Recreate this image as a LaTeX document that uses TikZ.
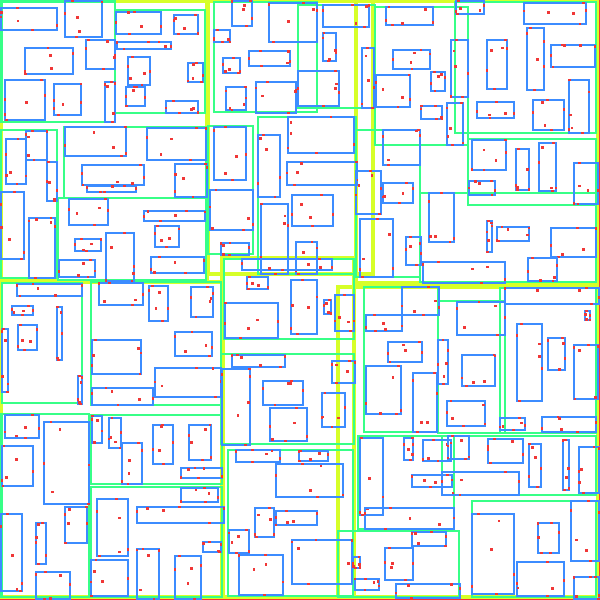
\documentclass[tikz,border=0pt]{standalone}
\usepackage{tikz}
\usetikzlibrary{calc}
\usepackage{xcolor}
\definecolor{rtreered}{RGB}{245,50,50}
\definecolor{rtreeyellow}{RGB}{215,255,40}
\definecolor{rtreegreen}{RGB}{55,255,135}
\definecolor{rtreeblue}{RGB}{60,140,255}
\definecolor{rtreedot}{RGB}{240,55,55}

\begin{document}
\begin{tikzpicture}[x=0.01cm,y=-0.01cm,
  rootbox/.style={draw=rtreered,line width=0.6pt},
  levelbox/.style={draw=rtreeyellow,line width=1pt},
  nodebox/.style={draw=rtreegreen,line width=0.75pt},
  leafbox/.style={draw=rtreeblue,line width=0.34pt},
  pointdot/.style={fill=rtreedot}]
\fill[white] (0,0) rectangle (600,600);
\useasboundingbox (0,0) rectangle (600,600);
\pgfmathsetseed{4242}

% root
\draw[rootbox] (0.5,0.5) rectangle (599,599);

% second level (yellow)
\foreach \xa/\ya/\xb/\yb in {1.5/1.5/207/281, 208/1.5/373/274, 356/1.5/597.5/283,
  1.5/282/223/597, 222/258/354/597, 338/287/597.5/597} {
  \draw[levelbox] (\xa,\ya) rectangle (\xb,\yb);
}

% third level (green)
\foreach \xa/\ya/\xb/\yb in {1.5/1.5/115/122, 115/10/205/113, 1/130/57/278,
  64/127/206/198, 58/198/206/280, 214/2/317/112, 298/5/375/108,
  375/7/468/145, 455/2/596/133, 208/126/253/254, 258/117/356/274,
  356/130/420/277, 468/139/596/205, 420/193/596/282, 2/283/82/403,
  91/282/221/405, 1.5/414/89/597, 91/415/222/484, 91/487/222/597,
  224/259/354/339, 221/354/354/444, 228/450/353/596, 364/287/438/432,
  438/301/505/433, 500/288/596/433, 442/436/596/495, 358/436/454/529,
  338/531/459/597, 472/501/596/597} {
  \draw[nodebox] (\xa,\ya) rectangle (\xb,\yb);
}

% leaves (blue) with their points
\foreach \xa/\ya/\xb/\yb in {
  1/8/57/30, 65/1/102/37, 116/12/161/34, 174/15/198/34, 117/42/171/49,
  25/48/73/74, 86/40/115/69, 128/57/150/85, 188/63/203/82, 5/80/45/120,
  54/84/81/115, 105/82/115/122, 126/87/145/106, 166/101/198/113,
  65/127/126/156, 6/139/26/184, 26/131/47/160, 47/162/57/201,
  147/128/206/160, 82/165/144/185, 87/186/136/192, 175/164/207/197,
  1/192/24/259, 69/199/108/225, 29/218/55/278, 75/239/101/251,
  59/260/95/277, 106/233/134/281, 144/211/205/221, 155/226/179/247,
  151/257/204/273,
  232/1/252/26, 214/30/230/42, 269/3/317/42, 323/5/369/27, 323/33/336/61,
  249/51/290/66, 223/58/240/73, 298/71/339/106, 226/87/246/110,
  256/82/296/113, 362/48/374/108, 214/127/246/180, 258/135/280/197,
  288/117/354/153, 287/162/357/185, 292/195/333/226, 356/171/381/214,
  383/183/413/203, 210/190/253/230, 221/243/249/255, 261/204/288/274,
  296/242/317/274, 360/219/393/277, 242/259/332/270, 376/75/410/107,
  393/50/430/69, 383/130/420/165, 386/7/433/25,
  456/1/484/14, 524/3/586/24, 451/40/468/97, 487/40/507/89, 527/28/544/90,
  551/45/595/67, 431/72/445/91, 421/106/442/119, 447/103/463/145,
  477/102/514/118, 533/100/564/130, 569/80/589/133, 472/140/506/170,
  516/149/529/190, 539/143/556/191, 574/163/598/204, 469/181/495/195,
  429/193/454/242, 406/237/421/265, 423/262/505/283, 487/221/492/252,
  497/227/529/241, 551/228/596/257, 528/258/557/281,
  17/284/82/296, 12/306/33/315, 18/325/37/350, 57/307/62/360, 2/329/8/392,
  78/376/82/404, 99/283/143/305, 149/286/168/321, 191/287/213/317,
  92/340/141/374, 175/332/212/356, 155/368/221/397, 92/388/153/405,
  5/415/39/438, 2/446/33/486, 44/422/89/504, 65/507/87/543, 1/514/22/591,
  36/523/46/564, 36/572/70/599, 92/416/102/443, 109/418/121/448,
  122/443/142/484, 153/425/173/464, 189/425/211/460, 181/468/222/478,
  181/488/218/502, 137/507/224/523, 97/499/128/556, 91/560/128/596,
  137/549/159/599, 175/556/201/599, 203/542/221/552,
  225/303/278/338, 291/280/317/334, 324/300/331/314, 335/295/354/331,
  247/277/268/289, 232/355/285/367, 222/369/250/445, 263/381/303/405,
  332/361/355/383, 322/393/345/427, 270/408/307/441, 236/450/280/462,
  299/451/328/461, 276/464/343/497, 255/508/274/537, 276/511/317/525,
  229/530/249/553, 239/555/283/595, 292/540/352/584, 353/557/360/568,
  355/579/379/590, 385/548/413/580, 396/584/460/598, 360/438/383/515,
  365/508/454/529,
  366/315/402/331, 388/342/422/362, 366/366/401/414, 413/373/437/432,
  402/287/439/315, 457/302/505/335, 438/340/448/384, 462/355/495/386,
  505/288/599/304, 517/324/542/401, 548/338/565/370, 574/345/598/399,
  585/311/590/320, 447/401/485/426, 500/418/525/430, 542/417/596/432,
  404/438/413/460, 423/440/451/461, 448/436/469/459, 488/439/523/463,
  529/444/541/487, 563/440/569/490, 579/447/599/493, 412/475/452/487,
  442/472/519/495, 412/532/446/546, 472/514/514/594, 538/523/559/553,
  517/562/564/596, 571/501/599/561, 574/577/599/599} {
  \draw[leafbox] (\xa,\ya) rectangle (\xb,\yb);
  % one point on every side, two inside
  \pgfmathsetmacro\ua{\xa+rnd*(\xb-\xa)}
  \pgfmathsetmacro\ub{\xa+rnd*(\xb-\xa)}
  \pgfmathsetmacro\uc{\xa+rnd*(\xb-\xa)}
  \pgfmathsetmacro\ud{\xa+rnd*(\xb-\xa)}
  \pgfmathsetmacro\va{\ya+rnd*(\yb-\ya)}
  \pgfmathsetmacro\vb{\ya+rnd*(\yb-\ya)}
  \pgfmathsetmacro\vc{\ya+rnd*(\yb-\ya)}
  \pgfmathsetmacro\vd{\ya+rnd*(\yb-\ya)}
  \foreach \px/\py in {\ua/\ya, \ub/\yb, \xa/\va, \xb/\vb, \uc/\vc, \ud/\vd} {
    \fill[pointdot] (\px,\py) ++(-1.4,-1.4) rectangle ++(2.8,2.8);
  }
}
\end{tikzpicture}
\end{document}
